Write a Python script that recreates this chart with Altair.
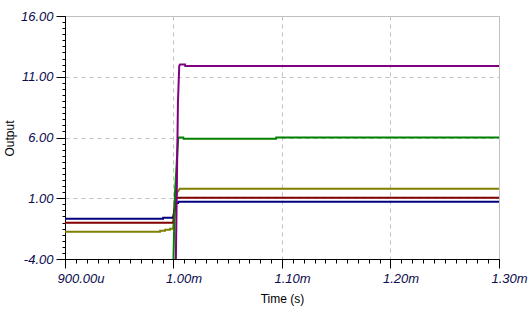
import altair as alt
import pandas as pd

# ---- data (time in ms, output in V) ----
series_names = ["olive", "navy", "red", "green", "purple"]
series_colors = ["#808000", "#000080", "#800000", "#008000", "#800080"]

olive_t = [0.9, 0.9876, 0.9877, 0.9922, 0.9923, 0.9968, 0.9969, 0.9996, 1.0025, 1.0035, 1.0045, 1.0058, 1.3]
olive_v = [-1.75, -1.75, -1.67, -1.67, -1.59, -1.59, -1.51, -1.51, 1.2, 1.52, 1.6, 1.79, 1.79]

navy_t = [0.9, 0.9904, 0.9905, 0.9995, 1.0025, 1.0042, 1.0045, 1.3]
navy_v = [-0.68, -0.68, -0.6, -0.6, 0.6, 0.6, 0.72, 0.72]

red_t = [0.9, 0.9998, 1.0015, 1.3]
red_v = [-1.01, -1.01, 1.05, 1.05]

green_t = [0.9, 0.9998, 1.0014, 1.0037, 1.0044, 1.0090, 1.0092, 1.0945, 1.0947, 1.3]
green_v = [-4.6, -4.6, 1.5, 5.1, 6.0, 6.0, 5.9, 5.9, 5.99, 5.99]

purple_t = [0.9, 1.0021, 1.0041, 1.0053, 1.0060, 1.0106, 1.0108, 1.3]
purple_v = [-4.6, -4.6, 8.9, 11.9, 12.0, 12.0, 11.88, 11.88]

x_major = [0.9, 1.0, 1.1, 1.2, 1.3]
x_labels = ["900.00u", "1.00m", "1.10m", "1.20m", "1.30m"]
y_major = [-4, 1, 6, 11, 16]
y_labels = ["-4.00", "1.00", "6.00", "11.00", "16.00"]
x_minor = [round(0.9 + 0.01 * k, 4) for k in range(41)]
y_minor = [-4 + 0.5 * k for k in range(41)]

series_data = [
    ("olive", olive_t, olive_v),
    ("navy", navy_t, navy_v),
    ("red", red_t, red_v),
    ("green", green_t, green_v),
    ("purple", purple_t, purple_v),
]
rows = []
for name, ts, vs in series_data:
    for i, (t, v) in enumerate(zip(ts, vs)):
        rows.append({"series": name, "t": t, "v": v, "i": i})
df = pd.DataFrame(rows)


def label_expr(vals, labs):
    parts = [f"abs(datum.value - ({v})) < 1e-6 ? '{l}'" for v, l in zip(vals, labs)]
    return " : ".join(parts) + " : ''"


FONT = "Liberation Sans"
LABEL_COLOR = "#0b0b4d"

x_scale = alt.Scale(domain=[0.9, 1.3], nice=False, zero=False)
y_scale = alt.Scale(domain=[-4, 16], nice=False, zero=False)

x_axis = alt.Axis(
    orient="bottom", values=x_major, labelExpr=label_expr(x_major, x_labels),
    grid=True, gridColor="#c0c0c0", gridDash=[4, 4], gridWidth=1,
    domainColor="black", domainWidth=1, tickColor="black", tickSize=9, tickWidth=1,
    labelFont=FONT, labelFontSize=13, labelFontStyle="italic", labelColor=LABEL_COLOR,
    labelAlign="left", labelOffset=-8, labelBaseline="top", labelPadding=4,
    labelFlush=False, labelOverlap=False,
    title="Time (s)", titleFont=FONT, titleFontSize=12, titleFontWeight="normal",
    titleColor="black", titleX=217, titleY=39, titleAlign="center", titleBaseline="middle",
)
y_axis = alt.Axis(
    orient="left", values=y_major, labelExpr=label_expr(y_major, y_labels),
    grid=True, gridColor="#c0c0c0", gridDash=[4, 4], gridWidth=1,
    domainColor="black", domainWidth=1, tickColor="black", tickSize=9, tickWidth=1,
    labelFont=FONT, labelFontSize=13, labelFontStyle="italic", labelColor=LABEL_COLOR,
    labelAlign="right", labelBaseline="middle", labelPadding=3,
    labelFlush=False, labelOverlap=False,
    title="Output", titleFont=FONT, titleFontSize=12, titleFontWeight="normal",
    titleColor="black", titleX=-56, titleY=122, titleAlign="center",
    titleBaseline="middle", titleAngle=-90,
)
x_minor_axis = alt.Axis(
    orient="bottom", values=x_minor, labels=False, domain=False, grid=False,
    tickColor="black", tickSize=4, tickWidth=1, title="",
)
y_minor_axis = alt.Axis(
    orient="left", values=y_minor, labels=False, domain=False, grid=False,
    tickColor="black", tickSize=3, tickWidth=1, title="",
)

base = alt.Chart(df)

lines = base.mark_line(strokeWidth=2, clip=True).encode(
    x=alt.X("t:Q", scale=x_scale, axis=x_axis),
    y=alt.Y("v:Q", scale=y_scale, axis=y_axis),
    color=alt.Color("series:N", scale=alt.Scale(domain=series_names, range=series_colors), legend=None),
    order=alt.Order("i:Q"),
)

minor = base.mark_point(opacity=0, clip=True).encode(
    x=alt.X("t:Q", scale=x_scale, axis=x_minor_axis),
    y=alt.Y("v:Q", scale=y_scale, axis=y_minor_axis),
)

chart = (
    alt.layer(minor, lines)
    .resolve_axis(x="independent", y="independent")
    .properties(
        width=434, height=243, autosize="none",
        padding={"left": 65, "top": 16, "right": 33, "bottom": 56},
        background="white",
    )
    .configure_view(stroke="#c0c0c0", strokeWidth=1)
)

chart.save("out.html", embed_options={"renderer": "svg", "actions": False})
